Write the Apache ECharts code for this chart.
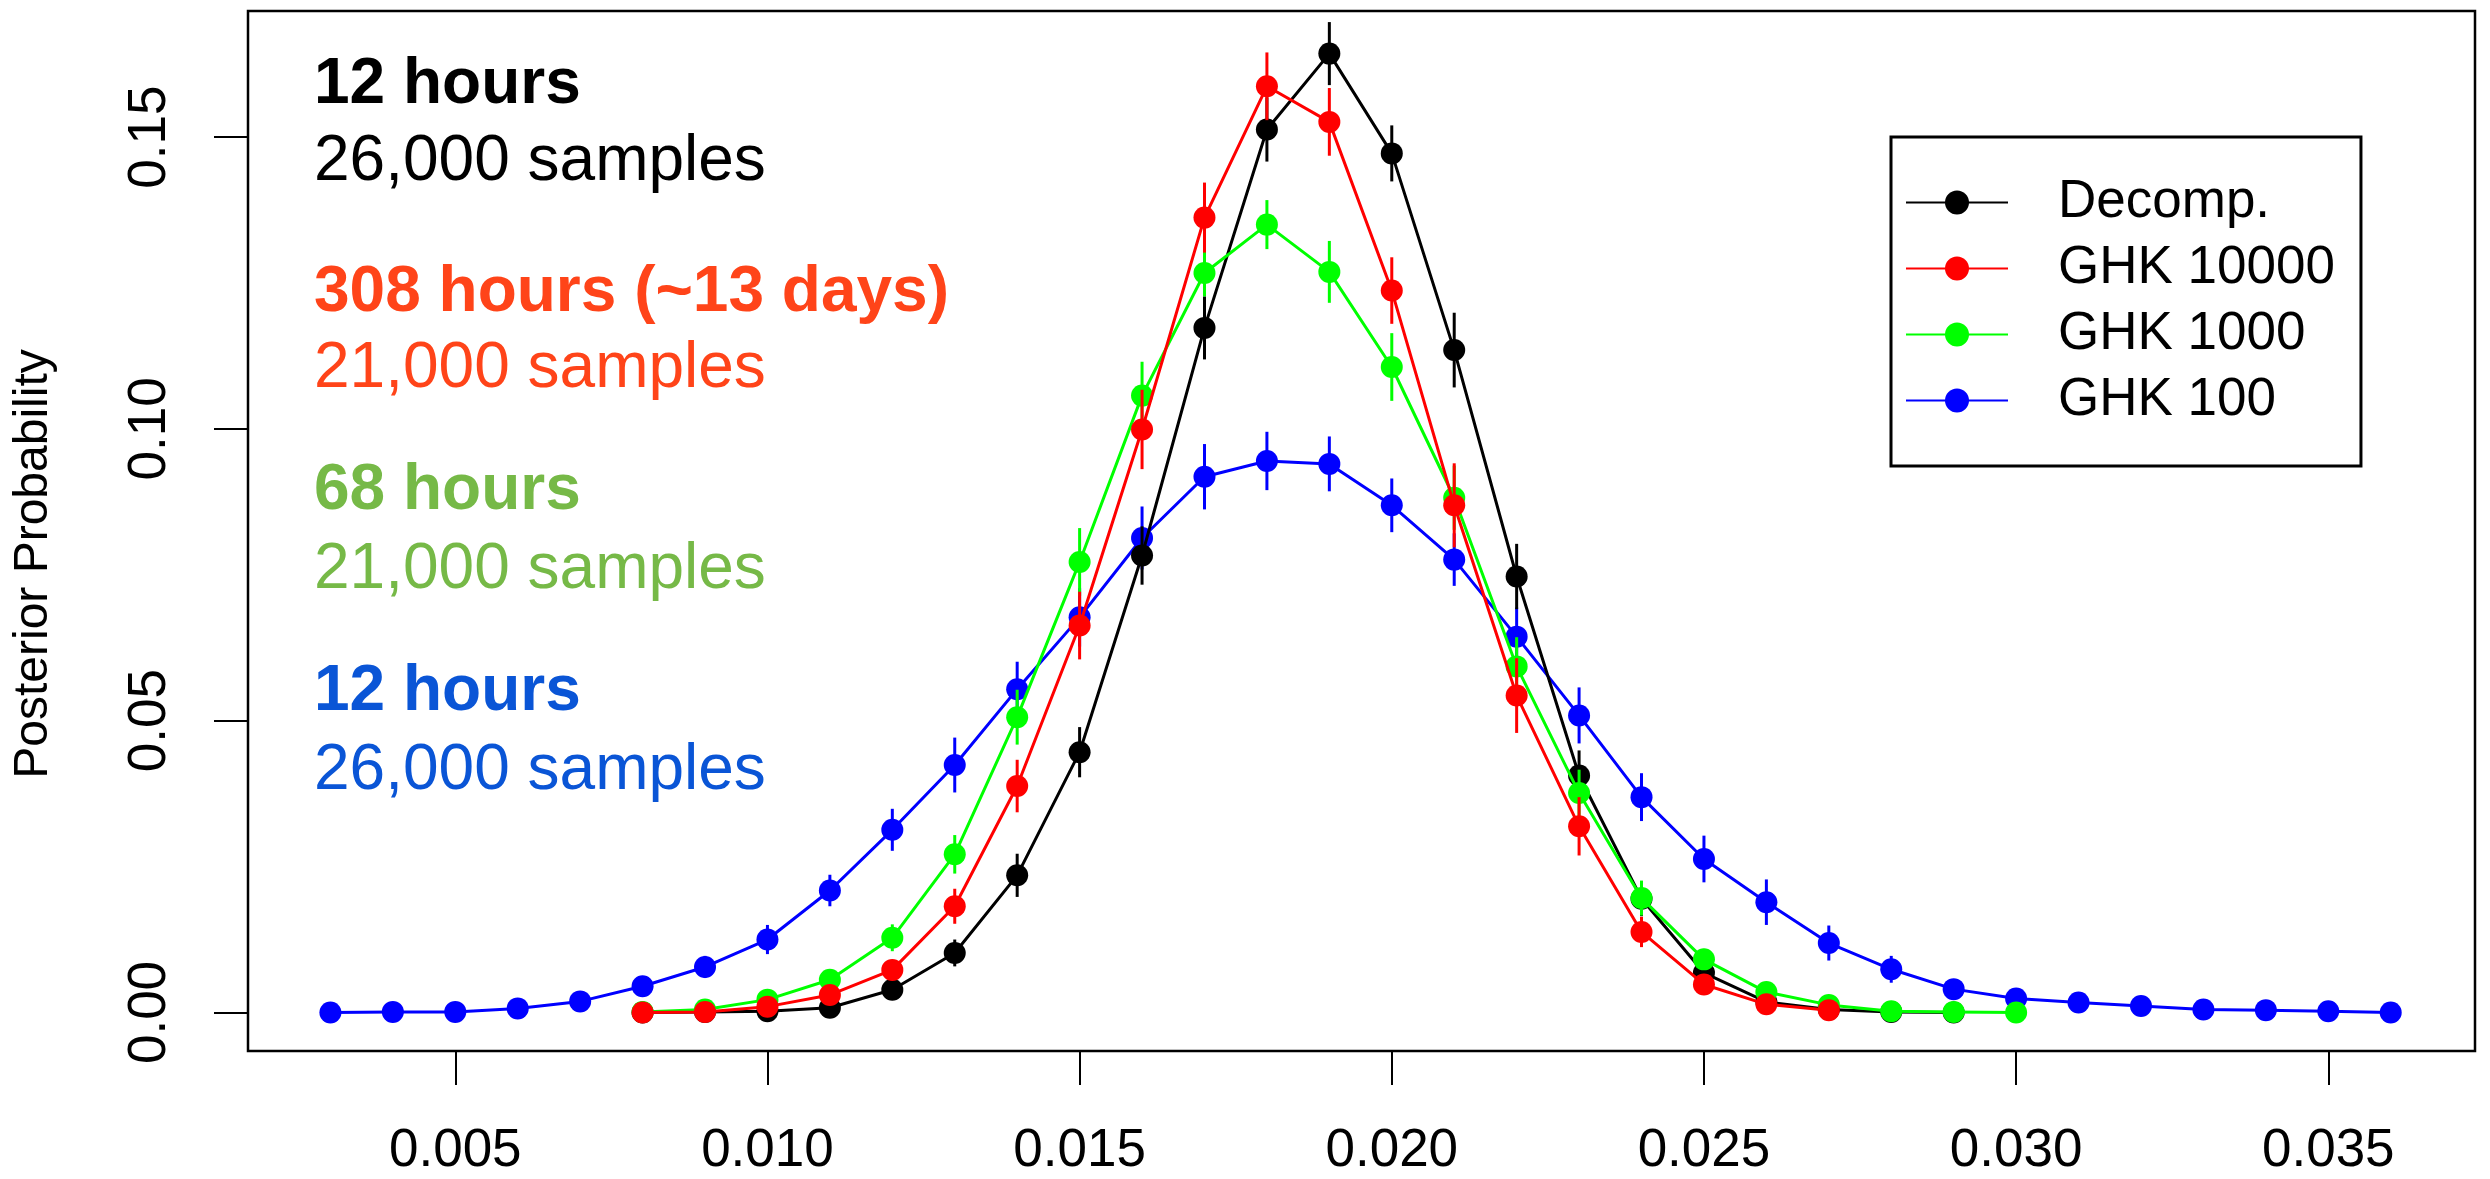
<!DOCTYPE html>
<html>
<head>
<meta charset="utf-8">
<script src="https://cdn.jsdelivr.net/npm/echarts@6/dist/echarts.min.js"></script>
<style>
html,body{margin:0;padding:0;background:#ffffff;}
#chart{width:2490px;height:1179px;}
</style>
</head>
<body>
<div id="chart"></div>
<script>
// ---------------- DATA ----------------
const seriesNames = ['Decomp.', 'GHK 10000', 'GHK 1000', 'GHK 100'];

const xDecomp = [0.008,0.009,0.010,0.011,0.012,0.013,0.014,0.015,0.016,0.017,0.018,0.019,0.020,0.021,0.022,0.023,0.024,0.025,0.026,0.027,0.028,0.029];
const yDecomp = [0.0000,0.0001,0.0002,0.0008,0.0039,0.0102,0.0235,0.0446,0.0783,0.1173,0.1513,0.1643,0.1472,0.1135,0.0747,0.0406,0.0195,0.0068,0.0018,0.0005,0.0001,0.0000];
const eDecomp = [0.0000,0.0001,0.0002,0.0006,0.0012,0.0023,0.0037,0.0043,0.0050,0.0054,0.0055,0.0054,0.0048,0.0064,0.0056,0.0043,0.0030,0.0018,0.0010,0.0005,0.0002,0.0001];

const xGHK10000 = [0.008,0.009,0.010,0.011,0.012,0.013,0.014,0.015,0.016,0.017,0.018,0.019,0.020,0.021,0.022,0.023,0.024,0.025,0.026,0.027];
const yGHK10000 = [0.0000,0.0001,0.0010,0.0030,0.0073,0.0182,0.0388,0.0663,0.0999,0.1362,0.1587,0.1526,0.1237,0.0869,0.0543,0.0319,0.0138,0.0048,0.0014,0.0004];
const eGHK10000 = [0.0000,0.0001,0.0005,0.0010,0.0017,0.0030,0.0045,0.0058,0.0068,0.0060,0.0058,0.0058,0.0057,0.0072,0.0064,0.0050,0.0026,0.0012,0.0006,0.0003];

const xGHK1000 = [0.008,0.009,0.010,0.011,0.012,0.013,0.014,0.015,0.016,0.017,0.018,0.019,0.020,0.021,0.022,0.023,0.024,0.025,0.026,0.027,0.028,0.029,0.030];
const yGHK1000 = [0.0001,0.0005,0.0022,0.0056,0.0128,0.0271,0.0506,0.0772,0.1057,0.1267,0.1350,0.1269,0.1106,0.0882,0.0593,0.0376,0.0196,0.0091,0.0035,0.0013,0.0002,0.0001,0.0000];
const eGHK1000 = [0.0001,0.0003,0.0008,0.0012,0.0023,0.0033,0.0047,0.0058,0.0058,0.0040,0.0042,0.0053,0.0058,0.0055,0.0050,0.0040,0.0030,0.0018,0.0010,0.0005,0.0002,0.0001,0.0001];

const xGHK100 = [0.003,0.004,0.005,0.006,0.007,0.008,0.009,0.010,0.011,0.012,0.013,0.014,0.015,0.016,0.017,0.018,0.019,0.020,0.021,0.022,0.023,0.024,0.025,0.026,0.027,0.028,0.029,0.030,0.031,0.032,0.033,0.034,0.035,0.036];
const yGHK100 = [0.0000,0.0001,0.0001,0.0007,0.0019,0.0045,0.0078,0.0125,0.0209,0.0313,0.0424,0.0554,0.0677,0.0813,0.0918,0.0945,0.0940,0.0869,0.0776,0.0644,0.0509,0.0369,0.0263,0.0189,0.0119,0.0074,0.0040,0.0024,0.0017,0.0011,0.0005,0.0004,0.0002,0.0000];
const eGHK100 = [0.0001,0.0001,0.0001,0.0004,0.0007,0.0012,0.0019,0.0025,0.0027,0.0036,0.0047,0.0047,0.0050,0.0054,0.0056,0.0050,0.0047,0.0046,0.0045,0.0050,0.0048,0.0041,0.0040,0.0039,0.0030,0.0023,0.0012,0.0008,0.0005,0.0004,0.0003,0.0002,0.0001,0.0001];

const xTicks = [0.005,0.010,0.015,0.020,0.025,0.030,0.035];
const yTicks = [0.00,0.05,0.10,0.15];

const yAxisTitle = 'Posterior Probability';
const annotationTexts = [
  '12 hours', '26,000 samples',
  '308 hours (~13 days)', '21,000 samples',
  '68 hours', '21,000 samples',
  '12 hours', '26,000 samples'
];

// ---------------- STYLE / LAYOUT ----------------
const FONT = '"Liberation Sans", Arial, Helvetica, sans-serif';
const groups = [
  {name: seriesNames[0], x: xDecomp,   y: yDecomp,   e: eDecomp,   color: '#000000', z: 3},
  {name: seriesNames[1], x: xGHK10000, y: yGHK10000, e: eGHK10000, color: '#ff0000', z: 5},
  {name: seriesNames[2], x: xGHK1000,  y: yGHK1000,  e: eGHK1000,  color: '#00ff00', z: 4},
  {name: seriesNames[3], x: xGHK100,   y: yGHK100,   e: eGHK100,   color: '#0000ff', z: 2}
];

function errRender(params, api) {
  const x = api.value(0);
  const p1 = api.coord([x, api.value(1)]);
  const p2 = api.coord([x, api.value(2)]);
  return {
    type: 'line',
    shape: {x1: p1[0], y1: p1[1], x2: p2[0], y2: p2[1]},
    style: {stroke: api.visual('color'), lineWidth: 3}
  };
}

const series = [];
groups.forEach(g => {
  series.push({
    type: 'custom',
    name: g.name + ' err',
    renderItem: errRender,
    data: g.x.map((v, i) => [v, g.y[i] - g.e[i], g.y[i] + g.e[i]]),
    encode: {x: 0, y: [1, 2]},
    itemStyle: {color: g.color},
    z: g.z,
    silent: true,
    animation: false
  });
  series.push({
    type: 'line',
    name: g.name,
    data: g.x.map((v, i) => [v, g.y[i]]),
    symbol: 'circle',
    symbolSize: 22,
    showSymbol: true,
    showAllSymbol: true,
    lineStyle: {width: 3, color: g.color},
    itemStyle: {color: g.color},
    emphasis: {disabled: true},
    z: g.z,
    animation: false
  });
});

// annotation layout (styles/positions)
const annStyles = [
  {y: 85,  bold: true,  color: '#000000'},
  {y: 162, bold: false, color: '#000000'},
  {y: 293, bold: true,  color: '#ff4419'},
  {y: 369, bold: false, color: '#ff4419'},
  {y: 491, bold: true,  color: '#76b947'},
  {y: 570, bold: false, color: '#76b947'},
  {y: 692, bold: true,  color: '#0a55d6'},
  {y: 771, bold: false, color: '#0a55d6'}
];
const graphics = annotationTexts.map((t, i) => {
  const s = annStyles[i];
  const size = 64;
  return {
    type: 'text',
    x: 314, y: s.y,
    z: 10,
    style: {
      text: t,
      fill: s.color,
      font: (s.bold ? 'bold ' : '') + size + 'px ' + FONT,
      align: 'left', verticalAlign: 'middle',
      textAlign: 'left', textVerticalAlign: 'middle'
    }
  };
});
graphics.push({
  type: 'text',
  x: 34, y: 564,
  rotation: Math.PI / 2,
  style: {
    text: yAxisTitle,
    fill: '#000000',
    font: '48px ' + FONT,
    align: 'center', verticalAlign: 'middle',
    textAlign: 'center', textVerticalAlign: 'middle'
  }
});

const chart = echarts.init(document.getElementById('chart'), null, {renderer: 'canvas'});
chart.setOption({
  animation: false,
  backgroundColor: '#ffffff',
  grid: {
    left: 248, right: 15, top: 11, bottom: 128,
    show: true, borderColor: '#000000', borderWidth: 2.5,
    backgroundColor: 'transparent', containLabel: false
  },
  xAxis: {
    type: 'value',
    position: 'bottom',
    min: 0.00168, max: 0.03735,
    axisLine: {show: false, onZero: false},
    splitLine: {show: false},
    axisTick: {show: true, customValues: xTicks, length: 34, inside: false,
               lineStyle: {color: '#000000', width: 2}},
    axisLabel: {show: true, customValues: xTicks, margin: 74,
                formatter: v => Number(v).toFixed(3),
                fontSize: 53, color: '#000000', fontFamily: FONT}
  },
  yAxis: {
    type: 'value',
    position: 'left',
    min: -0.0066, max: 0.1716,
    axisLine: {show: false, onZero: false},
    splitLine: {show: false},
    axisTick: {show: true, customValues: yTicks, length: 34, inside: false,
               lineStyle: {color: '#000000', width: 2}},
    axisLabel: {show: true, customValues: yTicks, margin: 71, rotate: 90,
                formatter: v => Number(v).toFixed(2),
                fontSize: 53, color: '#000000', fontFamily: FONT}
  },
  legend: {
    data: seriesNames,
    orient: 'vertical',
    left: 1891, top: 137,
    itemWidth: 102, itemHeight: 30, itemGap: 13,
    padding: [39, 26, 39, 14],
    borderColor: '#000000', borderWidth: 3,
    backgroundColor: '#ffffff',
    selectedMode: false,
    textStyle: {fontSize: 53, color: '#000000', fontFamily: FONT, padding: [0, 0, 0, 45]}
  },
  graphic: {elements: graphics},
  series: series
});
</script>
</body>
</html>
